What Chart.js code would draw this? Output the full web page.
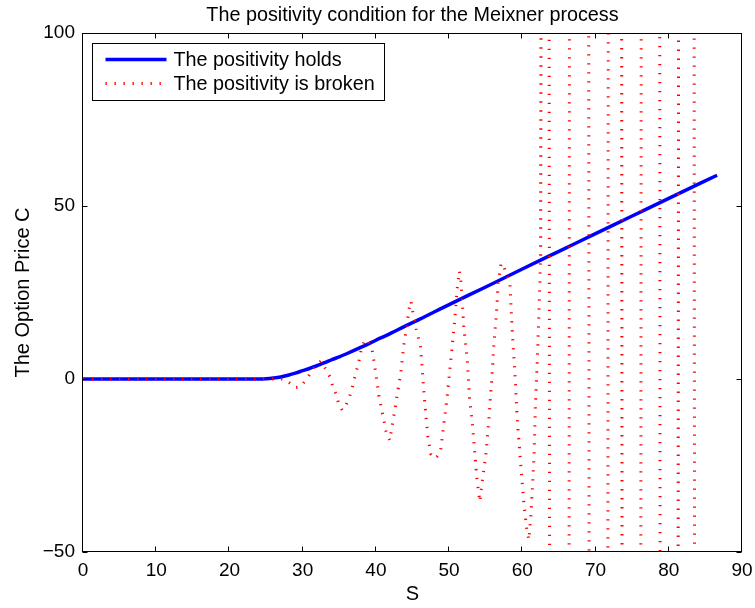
<!DOCTYPE html>
<html>
<head>
<meta charset="utf-8">
<script src="https://cdn.jsdelivr.net/npm/chart.js@4/dist/chart.umd.min.js"></script>
<style>
  html, body { margin: 0; padding: 0; background: #fff; }
  #wrap { width: 755px; height: 608px; position: relative; }
</style>
</head>
<body>
<div id="wrap"><canvas id="c"></canvas></div>
<script>
// ---- data ----
const chartTitle = 'The positivity condition for the Meixner process';
const xTitle = 'S';
const yTitle = 'The Option Price C';
const seriesNames = ['The positivity holds', 'The positivity is broken'];

// Blue curve: positivity holds
const holdsS = [0, 5, 10, 15, 20, 22, 24, 25, 26, 27, 28, 29, 30, 31, 32, 33, 34, 35, 36, 38, 40, 42, 44, 46, 50, 55, 60, 65, 70, 75, 80, 86.6];
const holdsC = [0, 0, 0, 0, 0, 0, 0.02, 0.1, 0.3, 0.6, 1.1, 1.7, 2.4, 3.1, 3.9, 4.7, 5.6, 6.4, 7.3, 9.2, 11.2, 13.2, 15.3, 17.3, 21.5, 26.6, 31.8, 36.9, 42.0, 47.1, 52.2, 58.9];

// Red dotted curve: positivity broken (values beyond the axis range are off-scale)
const brokenS = [0, 10, 20, 24, 26, 27.4, 28.4, 29.0, 29.7, 30.4, 31.1, 31.8, 32.5, 33.2, 33.8, 34.1, 34.6, 34.9, 35.4, 35.8, 36.1, 36.6, 36.9, 37.2, 37.5, 37.8, 38.0, 38.4, 38.8, 39.2, 39.5, 39.7, 40.0, 40.4, 40.9, 41.4, 41.9, 42.2, 42.6, 43.0, 43.4, 43.8, 44.2, 44.5, 44.8, 45.0, 45.5, 46.1, 46.3, 46.5, 46.8, 47.1, 47.5, 48.1, 48.8, 49.7, 50.2, 50.7, 51.1, 51.4, 51.6, 52.0, 52.5, 52.8, 53.2, 53.5, 53.8, 54.2, 54.5, 55.0, 55.4, 55.8, 56.1, 56.5, 56.7, 57.1, 57.5, 58.0, 58.3, 58.6, 59.0, 59.3, 59.8, 60.2, 60.6, 60.9, 61.2, 61.6, 61.8, 62.1, 62.4, 62.5, 62.7, 63.6, 63.8, 66.3, 66.5, 69.0, 69.2, 71.6, 71.8, 73.5, 73.7, 76.1, 76.3, 78.7, 78.9, 81.2, 81.4, 83.4, 83.6, 86.6];
const brokenC = [0, 0, 0, 0, 0, 0, -1.4, -2.5, -2.2, -0.4, 1.8, 4.1, 5.2, 2.7, 0.3, -2.1, -4.6, -7.0, -9.0, -8.3, -6.5, -4.0, -1.4, 1.2, 3.6, 6.2, 8.7, 10.8, 11.4, 9.8, 8.2, 5.6, 1.5, -4.8, -10.0, -15.2, -17.8, -13.8, -8.7, -3.4, 1.7, 9.6, 14.9, 20.0, 22.5, 19.8, 14.5, 9.2, 3.6, -2.2, -9.9, -16.6, -21.7, -23.0, -21.4, -5.8, 4.8, 15.4, 26.0, 31.2, 28.8, 15.4, 4.8, -5.8, -13.5, -21.2, -29.0, -35.5, -30.0, -22.2, -12.6, -1.0, 9.6, 19.8, 27.7, 33.5, 32.3, 29.5, 27.7, 14.5, 1.0, -11.6, -25.1, -35.7, -43.4, -46.5, -38.6, -22.2, -6.8, 8.7, 28.0, 36.0, 300, 300, -300, -300, 300, 300, -300, -300, 300, 300, -300, -300, 300, 300, -300, -300, 300, 300, -300, -300];

const xTicks = [0, 10, 20, 30, 40, 50, 60, 70, 80, 90];
const yTicks = [-50, 0, 50, 100];

// ---- chart ----
const FONT = 'Liberation Sans';
Chart.defaults.font.family = FONT;
Chart.defaults.color = '#000';

const toPts = (xs, ys) => xs.map((x, i) => ({ x: x, y: ys[i] }));

const boxAndText = {
  id: 'boxAndText',
  afterDraw(chart) {
    const ctx = chart.ctx, a = chart.chartArea;
    const xs = chart.scales.x, ys = chart.scales.y;
    ctx.save();
    // axes box
    const L = Math.round(a.left) - 0.5, R = Math.round(a.right) - 0.5;
    const T = Math.round(a.top) + 0.5, B = Math.round(a.bottom) - 0.5;
    ctx.strokeStyle = '#000';
    ctx.lineWidth = 1;
    ctx.setLineDash([]);
    ctx.strokeRect(L, T, R - L, B - T);
    // inward ticks on all four sides
    const tl = 5;
    ctx.beginPath();
    xTicks.forEach(v => {
      const px = Math.round(xs.getPixelForValue(v)) - 0.5;
      ctx.moveTo(px, B); ctx.lineTo(px, B - tl);
      ctx.moveTo(px, T); ctx.lineTo(px, T + tl);
    });
    yTicks.forEach(v => {
      const py = Math.round(ys.getPixelForValue(v)) + 0.5;
      ctx.moveTo(L, py); ctx.lineTo(L + tl, py);
      ctx.moveTo(R, py); ctx.lineTo(R - tl, py);
    });
    ctx.stroke();

    // title
    ctx.fillStyle = '#000';
    ctx.font = '19.8px "' + FONT + '"';
    ctx.textAlign = 'center';
    ctx.textBaseline = 'alphabetic';
    ctx.fillText(chartTitle, (a.left + a.right) / 2, 21);

    // legend inside the axes
    const x0 = Math.round(a.left) + 9.5, y0 = Math.round(a.top) + 10.5, w = 292, h = 57;
    ctx.fillStyle = '#fff';
    ctx.fillRect(x0, y0, w, h);
    ctx.strokeStyle = '#000';
    ctx.lineWidth = 1;
    ctx.strokeRect(x0, y0, w, h);
    chart.data.datasets.forEach((ds, i) => {
      const yy = y0 + 16 + i * 24;
      ctx.beginPath();
      ctx.setLineDash(ds.borderDash || []);
      ctx.lineDashOffset = 0;
      ctx.lineWidth = ds.borderWidth;
      ctx.strokeStyle = ds.borderColor;
      ctx.moveTo(x0 + 13, yy);
      ctx.lineTo(x0 + 74, yy);
      ctx.stroke();
      ctx.setLineDash([]);
      ctx.fillStyle = '#000';
      ctx.font = '19.8px "' + FONT + '"';
      ctx.textAlign = 'left';
      ctx.textBaseline = 'middle';
      ctx.fillText(ds.label, x0 + 81, yy + 1);
    });
    ctx.restore();
  }
};

new Chart(document.getElementById('c'), {
  type: 'scatter',
  data: {
    datasets: [
      {
        label: seriesNames[0],
        data: toPts(holdsS, holdsC),
        showLine: true,
        borderColor: '#0000ff',
        backgroundColor: '#0000ff',
        borderWidth: 3.5,
        pointRadius: 0,
        cubicInterpolationMode: 'monotone',
        order: 1
      },
      {
        label: seriesNames[1],
        data: toPts(brokenS, brokenC),
        showLine: true,
        borderColor: '#ff0000',
        backgroundColor: '#ff0000',
        borderWidth: 3,
        borderDash: [1.3, 7.7],
        pointRadius: 0,
        tension: 0,
        order: 0
      }
    ]
  },
  options: {
    responsive: true,
    maintainAspectRatio: false,
    animation: false,
    layout: { padding: { top: 33, right: 13, left: 0, bottom: 0 } },
    plugins: {
      legend: { display: false },
      title: { display: false },
      tooltip: { enabled: false }
    },
    scales: {
      x: {
        type: 'linear',
        min: 0, max: 90,
        grid: { display: false, drawTicks: false },
        border: { display: false },
        ticks: { stepSize: 10, padding: 7, font: { size: 19 }, color: '#000', maxRotation: 0 },
        title: { display: true, text: xTitle, font: { size: 20 }, color: '#000', padding: { top: 0, bottom: 2 } },
        afterFit(s) { s.height = 56; s.paddingLeft = 0; s.paddingRight = 0; }
      },
      y: {
        type: 'linear',
        min: -50, max: 100,
        grid: { display: false, drawTicks: false },
        border: { display: false },
        ticks: {
          stepSize: 50, padding: 8, font: { size: 19 }, color: '#000',
          callback: v => (v < 0 ? '\u2212' + Math.abs(v) : String(v))
        },
        title: { display: true, text: yTitle, font: { size: 20 }, color: '#000', padding: { top: 11, bottom: 0 } },
        afterFit(s) { s.width = 83; s.paddingTop = 0; s.paddingBottom = 0; }
      }
    }
  },
  plugins: [boxAndText]
});
</script>
</body>
</html>
